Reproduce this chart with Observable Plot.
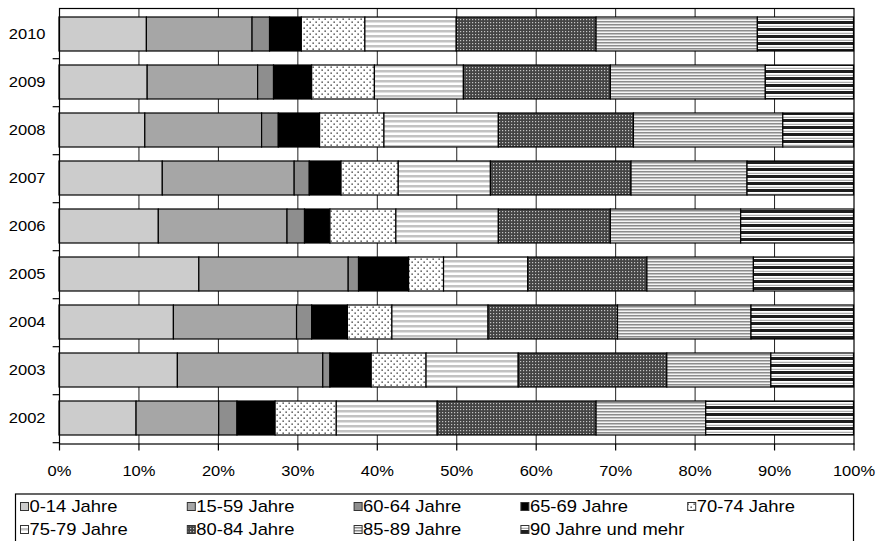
<!DOCTYPE html>
<html>
<head>
<meta charset="utf-8">
<script src="https://cdn.jsdelivr.net/npm/d3@7"></script>
<script src="https://cdn.jsdelivr.net/npm/@observablehq/plot@0.6"></script>
<style>
  html, body { margin: 0; padding: 0; background: #fff; }
  #chart svg { display: block; }
  #legend { display: block; }
  #defs { position: absolute; width: 0; height: 0; overflow: hidden; }
</style>
</head>
<body>
<svg id="defs" width="0" height="0">
  <defs>
    <pattern id="pat-dots" patternUnits="userSpaceOnUse" width="6" height="6">
      <rect width="6" height="6" fill="#fff"/>
      <rect x="0.5" y="0.5" width="1.3" height="1.3" fill="#222"/>
      <rect x="3.5" y="3.5" width="1.3" height="1.3" fill="#222"/>
    </pattern>
    <pattern id="pat-wide-light" patternUnits="userSpaceOnUse" width="6" height="5">
      <rect width="6" height="5" fill="#fff"/>
      <rect y="0" width="6" height="2.5" fill="#c2c2c2"/>
    </pattern>
    <pattern id="pat-check" patternUnits="userSpaceOnUse" width="3" height="3">
      <rect width="3" height="3" fill="#444"/>
      <rect x="1" y="1" width="1.2" height="1.2" fill="#c4c4c4"/>
    </pattern>
    <pattern id="pat-fine" patternUnits="userSpaceOnUse" width="6" height="3">
      <rect width="6" height="3" fill="#f4f4f4"/>
      <rect y="0" width="6" height="1.5" fill="#8c8c8c"/>
    </pattern>
    <pattern id="pat-bold" patternUnits="userSpaceOnUse" width="6" height="7">
      <rect width="6" height="7" fill="#fff"/>
      <rect y="0" width="6" height="3" fill="#1e1e1e"/>
      <rect y="4.8" width="6" height="1" fill="#9a9a9a"/>
    </pattern>
  </defs>
</svg>
<div id="chart"></div>
<svg id="legend" width="880" height="53"></svg>
<script>
// Jahre, von oben nach unten
const years = ["2010", "2009", "2008", "2007", "2006", "2005", "2004", "2003", "2002"];

// Altersgruppen in Stapelreihenfolge
const ages = [
  "0-14 Jahre", "15-59 Jahre", "60-64 Jahre", "65-69 Jahre", "70-74 Jahre",
  "75-79 Jahre", "80-84 Jahre", "85-89 Jahre", "90 Jahre und mehr"
];

// Anteile in Prozent je Altersgruppe, in der Reihenfolge von `years`
const share0_14   = [11.0, 11.1, 10.8, 13.0, 12.5, 17.6, 14.4, 14.9,  9.7];
const share15_59  = [13.3, 13.9, 14.7, 16.6, 16.2, 18.8, 15.5, 18.3, 10.4];
const share60_64  = [ 2.2,  2.0,  2.1,  1.9,  2.2,  1.3,  1.9,  0.9,  2.3];
const share65_69  = [ 4.0,  4.8,  5.2,  4.0,  3.2,  6.3,  4.5,  5.2,  4.8];
const share70_74  = [ 8.0,  7.9,  8.1,  7.2,  8.3,  4.4,  5.6,  6.9,  7.7];
const share75_79  = [11.5, 11.2, 14.4, 11.6, 12.9, 10.6, 12.1, 11.6, 12.7];
const share80_84  = [17.6, 18.5, 17.0, 17.7, 14.1, 15.0, 16.3, 18.7, 20.0];
const share85_89  = [20.3, 19.5, 18.8, 14.6, 16.4, 13.4, 16.8, 13.1, 13.8];
const share90plus = [12.1, 11.1,  8.9, 13.4, 14.2, 12.6, 12.9, 10.4, 18.6];

const series = [share0_14, share15_59, share60_64, share65_69, share70_74,
                share75_79, share80_84, share85_89, share90plus];

// x-Achse
const xTicks = [0, 10, 20, 30, 40, 50, 60, 70, 80, 90, 100];
const gridTicks = [10, 20, 30, 40, 50, 60, 70, 80, 90];

// Füllungen (Grautöne und Schraffuren)
const fills = [
  "#cccccc", "#a6a6a6", "#8e8e8e", "#000000", "url(#pat-dots)",
  "url(#pat-wide-light)", "url(#pat-check)", "url(#pat-fine)", "url(#pat-bold)"
];

const rows = years.flatMap((year, i) =>
  ages.map((age, j) => ({year, age, share: series[j][i]}))
);

const W = 880, H = 488;
const mTop = 8, mBottom = 44.5, mLeft = 59, mRight = 26.5;
const step = (H - mTop - mBottom) / years.length;
const font = "'Liberation Sans', Arial, sans-serif";
const textStretch = "scale(1.1,1)";

const chart = Plot.plot({
  width: W,
  height: H,
  marginTop: mTop,
  marginBottom: mBottom,
  marginLeft: mLeft,
  marginRight: mRight,
  style: {fontFamily: font, fontSize: "15px", color: "#000", background: "#fff"},
  x: {domain: [0, 100]},
  y: {domain: years, paddingInner: 0.287, paddingOuter: 0.1435},
  color: {domain: ages, range: fills},
  marks: [
    Plot.ruleX(gridTicks, {stroke: "#222", strokeWidth: 1}),
    Plot.barX(rows, Plot.stackX({
      y: "year", x: "share", fill: "age",
      stroke: "#000", strokeWidth: 1.2, inset: 0
    })),
    Plot.frame({stroke: "#000", strokeWidth: 1.2}),
    Plot.ruleY(years, {y: d => d, x1: -0.8, x2: 0, dy: step / 2, stroke: "#000", strokeWidth: 1.2}),
    Plot.axisX({
      ticks: xTicks, tickFormat: d => d + "%", tickSize: 7, tickPadding: 14,
      label: null, stroke: "#000", strokeWidth: 1.2
    }),
    Plot.axisY({tickSize: 0, tickPadding: 14, label: null})
  ]
});

// Achsenbeschriftung etwas breiter laufen lassen
chart.querySelectorAll('g[aria-label="x-axis tick label"] text, g[aria-label="y-axis tick label"] text')
  .forEach(t => {
    const tr = t.getAttribute("transform");
    if (tr) t.setAttribute("transform", tr + " " + textStretch);
  });
document.getElementById("chart").appendChild(chart);

// Legende
const legend = d3.select("#legend");
legend.append("rect")
  .attr("x", 15.5).attr("y", 6).attr("width", 838).attr("height", 70)
  .attr("fill", "#fff").attr("stroke", "#000").attr("stroke-width", 1.2);

const colX = 21, colStep = 166.8, rowY = [18.5, 41.5];
ages.forEach((age, k) => {
  const col = k % 5, row = Math.floor(k / 5);
  const x = colX + col * colStep, y = rowY[row];
  legend.append("rect")
    .attr("x", x - 0.5).attr("y", y - 4).attr("width", 8).attr("height", 8)
    .attr("fill", fills[k]).attr("stroke", "#333").attr("stroke-width", 1);
  legend.append("text")
    .attr("transform", `translate(${x + 8.5},${y}) scale(1.15,1)`)
    .attr("dy", "0.35em")
    .attr("font-family", font).attr("font-size", 16).attr("fill", "#000")
    .text(age);
});
</script>
</body>
</html>
